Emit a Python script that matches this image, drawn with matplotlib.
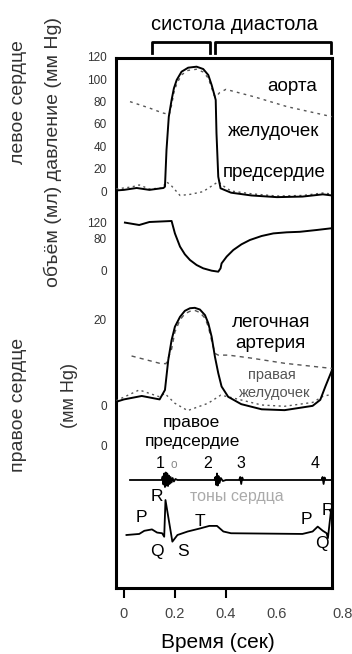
import matplotlib
matplotlib.use("Agg")
import matplotlib.pyplot as plt
import matplotlib.transforms as mtransforms

plt.rcParams['font.family'] = ['Liberation Sans', 'DejaVu Sans']

# --- данные (читаются с картинки) ---
# левое сердце, давление (мм Hg)
lv_t = [-0.03, 0.0, 0.05, 0.10, 0.155, 0.161, 0.167, 0.176, 0.187, 0.196, 0.207,
        0.226, 0.252, 0.285, 0.311, 0.331, 0.344, 0.353, 0.36, 0.363, 0.37, 0.379,
        0.42, 0.5, 0.6, 0.7, 0.78, 0.816]
lv_p = [0.5, 1.0, 2.7, 1.0, 2.7, 3.9, 36.7, 66.5, 81.5, 91.9, 99.4,
        106.8, 110.4, 111.3, 109.2, 103.8, 94.9, 87.5, 81.5, 51.9, 12.8, 2.4,
        -1.5, -4.0, -5.5, -5.0, -3.0, -4.0]
ao_t = [0.024, 0.10, 0.15, 0.178, 0.187, 0.196, 0.207, 0.226, 0.252, 0.285, 0.311,
        0.331, 0.344, 0.353, 0.36, 0.375, 0.40, 0.51, 0.64, 0.816]
ao_p = [80, 74.3, 70, 68.5, 77, 88, 96, 104, 108, 109, 106.5,
        101, 92.5, 86, 84, 88, 91, 84.4, 75.5, 66.5]
la_t = [-0.03, 0.03, 0.06, 0.10, 0.15, 0.167, 0.187, 0.22, 0.26, 0.31, 0.37, 0.39,
        0.42, 0.5, 0.6, 0.7, 0.78, 0.816]
la_p = [1.8, 3.6, 5.4, 1.8, 2.7, 8.3, 4.5, -4.0, -3.0, -0.6, 8.3, 4.5,
        0, -2.5, -4.5, -4.0, -1.8, -2.7]

# объём левого желудочка (мл)
vol_t = [0.004, 0.06, 0.10, 0.187, 0.20, 0.22, 0.239, 0.259, 0.285, 0.311, 0.344,
         0.37, 0.379, 0.383, 0.403, 0.429, 0.461, 0.494, 0.54, 0.586, 0.638, 0.69,
         0.756, 0.816]
vol_v = [121, 115, 122.5, 125, 94, 61, 41.7, 27.5, 15, 6.7, 0.8,
         -1.7, 6.7, 19, 36, 52.5, 66.7, 77.5, 87.5, 94, 96.7, 98,
         102.5, 107]

# правое сердце, давление (мм Hg)
rv_t = [-0.027, 0.0, 0.07, 0.14, 0.161, 0.174, 0.187, 0.20, 0.22, 0.239, 0.259,
        0.278, 0.298, 0.318, 0.331, 0.344, 0.357, 0.37, 0.383, 0.409, 0.46, 0.54,
        0.63, 0.74, 0.77, 0.79, 0.816]
rv_p = [0.8, 1.3, 2.1, 1.3, 3.5, 10.5, 15.1, 18.2, 20.5, 21.9, 22.5,
        22.6, 22.2, 20.9, 19.0, 15.9, 11.2, 7.4, 4.3, 1.9, 0.2, -1.0,
        -1.2, -0.2, 1.2, 4.3, 8.1]
pa_t = [0.03, 0.14, 0.165, 0.187, 0.20, 0.22, 0.239, 0.259, 0.278, 0.298, 0.318,
        0.331, 0.344, 0.357, 0.37, 0.41, 0.50, 0.63, 0.816]
pa_p = [11.4, 9.7, 9.6, 13.0, 17.0, 19.8, 21.2, 21.8, 22.0, 21.5, 20.2,
        18.2, 15.0, 12.0, 11.6, 11.6, 10.9, 9.7, 8.5]
ra_t = [-0.03, 0.06, 0.14, 0.16, 0.20, 0.25, 0.33, 0.38, 0.43, 0.54, 0.63, 0.74,
        0.78, 0.816]
ra_p = [1.0, 3.5, 1.9, 2.7, 0.4, -1.3, 0.4, 2.3, 1.6, 0.0, -0.3, 0.6, 2.0, 2.5]

# тоны сердца (усл. ед.)
snd_t = [0.024, 0.10, 0.148, 0.152, 0.155, 0.158, 0.161, 0.164, 0.167, 0.170, 0.173,
         0.176, 0.179, 0.183, 0.187, 0.191, 0.196, 0.202, 0.21, 0.30, 0.355, 0.359,
         0.362, 0.365, 0.368, 0.371, 0.375, 0.38, 0.388, 0.40, 0.452, 0.456, 0.460,
         0.464, 0.468, 0.60, 0.775, 0.779, 0.783, 0.787, 0.791, 0.816]
snd_a = [0, 0, 0, 0.7, -0.9, 1.3, -1.4, 1.5, -1.1, 1.3, -1.2, 0.9, -0.8, 0.6, -0.5,
         0.4, -0.3, 0.2, 0, 0, 0, 0.6, -1.0, 1.3, -1.1, 0.8, -0.6, 0.4, -0.2, 0,
         0, 0.6, -0.8, 0.5, 0, 0, 0, 0.6, -0.8, 0.5, 0, 0]
snd_labels = ['1', '2', '3', '4']
snd_label_t = [0.141, 0.33, 0.459, 0.749]

# ЭКГ (мВ)
ecg_t = [0.01, 0.06, 0.08, 0.11, 0.13, 0.15, 0.158, 0.163, 0.19, 0.21, 0.25, 0.30,
         0.335, 0.365, 0.39, 0.42, 0.70, 0.74, 0.76, 0.78, 0.795, 0.80, 0.812]
ecg_v = [0, 0.03, 0.12, 0.16, 0.07, 0.05, -0.05, 1.0, -0.19, 0, 0.1, 0.19,
         0.26, 0.26, 0.1, 0.05, 0.03, 0.1, 0.24, 0.12, 0.05, -0.09, 0.7]
ecg_letters = ['P', 'Q', 'R', 'S', 'T', 'P', 'R', 'Q']
ecg_letter_t = [0.069, 0.128, 0.128, 0.231, 0.298, 0.716, 0.80, 0.775]
ecg_letter_v = [0.49, -0.48, 1.09, -0.48, 0.38, 0.43, 0.71, -0.23]

x_ticks = [0, 0.2, 0.4, 0.6, 0.8]
x_ticklabels = ['0', '0.2', '0.4', '0.6', '0.8']
lp_ticks = [120, 100, 80, 60, 40, 20, 0]
vol_ticks = [120, 80, 0]
rp_ticks = [20, 0]

# --- вёрстка в пикселях ---
W, H = 352, 654
xlim = (-0.031, 0.816)


def px_rect(left, top, right, bottom):
    return [left / W, 1 - bottom / H, (right - left) / W, (bottom - top) / H]


def panel(top, bottom, zero_px, px_per_unit, ticks):
    ax = fig.add_axes(px_rect(116, top, 332, bottom))
    ax.set_xlim(xlim)
    ax.set_ylim((zero_px - bottom) / px_per_unit, (zero_px - top) / px_per_unit)
    ax.patch.set_alpha(0)
    for s in ax.spines.values():
        s.set_visible(False)
    ax.set_xticks([])
    ax.set_yticks(ticks)
    ax.set_yticklabels([str(v) for v in ticks])
    ax.tick_params(axis='y', length=0, pad=6.5, labelsize=8.5, labelcolor='#333')
    return ax


fig = plt.figure(figsize=(W / 100, H / 100), dpi=100)

frame = fig.add_axes(px_rect(116, 58, 332, 588))
frame.set_xlim(xlim)
frame.set_ylim(0, 1)
frame.set_yticks([])
frame.set_xticks(x_ticks)
frame.set_xticklabels(x_ticklabels)
frame.tick_params(axis='x', direction='out', length=7, width=1.5, pad=7,
                  labelsize=10.5, labelcolor='#444')
for tk in frame.xaxis.get_major_ticks()[3:]:
    tk.tick1line.set_visible(False)
lab08 = frame.xaxis.get_majorticklabels()[4]
lab08.set_transform(lab08.get_transform()
                    + mtransforms.ScaledTranslation(0.15, 0, fig.dpi_scale_trans))
for s in frame.spines.values():
    s.set_linewidth(2.2)

# скобки систола / диастола
tr = mtransforms.blended_transform_factory(frame.transData, frame.transAxes)
for a, b in [(0.11, 0.337), (0.357, 0.812)]:
    frame.plot([a, a, b, b], [1.009, 1.030, 1.030, 1.009], color='k', lw=2,
               transform=tr, clip_on=False)

# левое сердце
lp = panel(50, 200, 191, 1.117, lp_ticks)
lp.plot(ao_t, ao_p, color='#555', lw=1.0, ls=(0, (2, 3)), clip_on=False)
lp.plot(la_t, la_p, color='#555', lw=1.0, ls=(0, (1.5, 2.5)), clip_on=False)
lp.plot(lv_t, lv_p, color='k', lw=1.4, clip_on=False)
lp.text(0.66, 94, 'аорта', ha='center', va='center', fontsize=13.5)
lp.text(0.585, 53, 'желудочек', ha='center', va='center', fontsize=13.5)
lp.text(0.59, 16.4, 'предсердие', ha='center', va='center', fontsize=13.5)

# объём
vol = panel(215, 280, 271, 0.4, vol_ticks)
vol.plot(vol_t, vol_v, color='k', lw=1.4, clip_on=False)

# правое сердце
rp = panel(300, 420, 405, 4.3, rp_ticks)
rp.plot(pa_t, pa_p, color='#555', lw=1.0, ls=(0, (3, 3)), clip_on=False)
rp.plot(ra_t, ra_p, color='#555', lw=1.0, ls=(0, (1.5, 2.5)), clip_on=False)
rp.plot(rv_t, rv_p, color='k', lw=1.4, clip_on=False)
rp.text(0.576, 19.3, 'легочная', ha='center', va='center', fontsize=13.5)
rp.text(0.576, 14.4, 'артерия', ha='center', va='center', fontsize=13.5)
rp.text(0.58, 7.0, 'правая', ha='center', va='center', fontsize=10.5, color='#555')
rp.text(0.59, 2.8, 'желудочек', ha='center', va='center', fontsize=10.5, color='#555')
rp.text(0.263, -4.0, 'правое', ha='center', va='center', fontsize=12.5)
rp.text(0.27, -8.6, 'предсердие', ha='center', va='center', fontsize=12.5)

# тоны сердца
snd = panel(455, 505, 480, 5, [])
snd.plot(snd_t, snd_a, color='k', lw=1.3, clip_on=False)
for lab, t in zip(snd_labels, snd_label_t):
    snd.text(t, 3.4, lab, ha='center', va='center', fontsize=11.5)
snd.text(0.196, 3.0, 'о', ha='center', va='center', fontsize=8.5, color='#888')
snd.text(0.443, -3.4, 'тоны сердца', ha='center', va='center', fontsize=11.5,
         color='#aaa')

# ЭКГ
ecg = panel(490, 560, 535, 35, [])
ecg.plot(ecg_t, ecg_v, color='k', lw=1.3, clip_on=False)
for lab, t, v in zip(ecg_letters, ecg_letter_t, ecg_letter_v):
    ecg.text(t, v, lab, ha='center', va='center', fontsize=12.5)

# подписи
fig.text(234 / W, 1 - 25 / H, 'систола диастола', ha='center', va='center', fontsize=14.5)
fig.text(218 / W, 1 - 643 / H, 'Время (сек)', ha='center', va='center', fontsize=15)
fig.text(19 / W, 1 - 102 / H, 'левое сердце', rotation=90, ha='center', va='center',
         fontsize=14, color='#333')
fig.text(53 / W, 1 - 152 / H, 'объём (мл) давление (мм Hg)', rotation=90, ha='center',
         va='center', fontsize=14, color='#333')
fig.text(19 / W, 1 - 405 / H, 'правое сердце', rotation=90, ha='center', va='center',
         fontsize=14, color='#333')
fig.text(70 / W, 1 - 395 / H, '(мм Hg)', rotation=90, ha='center', va='center',
         fontsize=13, color='#333')
fig.text(107 / W, 1 - 447 / H, '0', ha='right', va='center', fontsize=8.5, color='#333')

fig.savefig('out.png', dpi=100)
